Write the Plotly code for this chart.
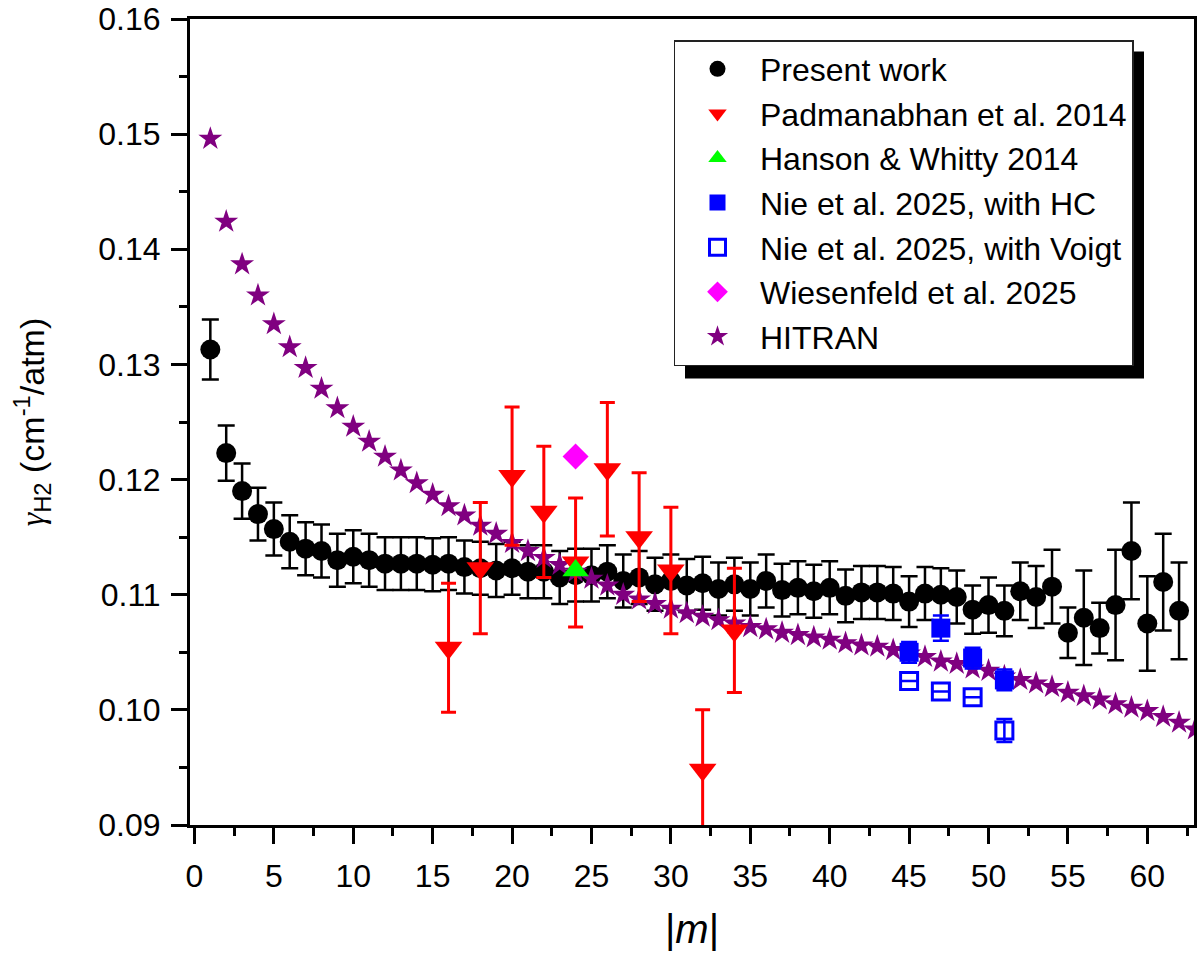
import plotly.graph_objects as go

# ---------------- data ----------------
m_present = list(range(1, 63))
g_present = [0.1313, 0.1223, 0.1190, 0.1170, 0.1157, 0.1146, 0.1140, 0.1138, 0.1130, 0.1133,
             0.1130, 0.1127, 0.1127, 0.1127, 0.1126, 0.1127, 0.1124, 0.1123, 0.1121, 0.1123,
             0.1120, 0.1120, 0.1115, 0.1117, 0.1117, 0.1120, 0.1112, 0.1115, 0.1109, 0.1112,
             0.1108, 0.1110, 0.1105, 0.1109, 0.1105, 0.1112, 0.1104, 0.1106, 0.1103, 0.1106,
             0.1099, 0.1102, 0.1102, 0.1101, 0.1094, 0.1101, 0.1100, 0.1098, 0.1087, 0.1091,
             0.1086, 0.1103, 0.1098, 0.1107, 0.1067, 0.1080, 0.1071, 0.1091, 0.1138, 0.1075,
             0.1111, 0.1086]
e_present = [0.0026, 0.0024, 0.0024, 0.0023, 0.0023, 0.0023, 0.0023, 0.0023, 0.0023, 0.0023,
             0.0023, 0.0023, 0.0023, 0.0023, 0.0023, 0.0023, 0.0023, 0.0023, 0.0023, 0.0023,
             0.0023, 0.0023, 0.0023, 0.0023, 0.0023, 0.0023, 0.0023, 0.0023, 0.0023, 0.0023,
             0.0023, 0.0023, 0.0023, 0.0023, 0.0023, 0.0023, 0.0023, 0.0023, 0.0023, 0.0023,
             0.0023, 0.0023, 0.0023, 0.0023, 0.0022, 0.0023, 0.0023, 0.0023, 0.0021, 0.0024,
             0.0022, 0.0025, 0.0027, 0.0032, 0.0022, 0.0041, 0.0022, 0.0048, 0.0042, 0.0041,
             0.0042, 0.0042]

m_pad = [16, 18, 20, 22, 24, 26, 28, 30, 32, 34]
g_pad = [0.1054, 0.1123, 0.1203, 0.1172, 0.1128, 0.1209, 0.1150, 0.1121, 0.0948, 0.1069]
e_pad = [0.0056, 0.0057, 0.0060, 0.0057, 0.0056, 0.0058, 0.0056, 0.0055, 0.0052, 0.0054]

m_hw = [24]
g_hw = [0.1121]

m_nie = [45, 47, 49, 51]
g_nie_hc = [0.1050, 0.1071, 0.1045, 0.1026]
e_nie_hc = [0.0009, 0.0011, 0.0009, 0.0009]
g_nie_v = [0.1025, 0.1016, 0.1011, 0.0982]
e_nie_v = [0.0, 0.0, 0.0, 0.0010]

m_wie = [24]
g_wie = [0.1220]

m_hitran = list(range(1, 64))
g_hitran = [0.1496, 0.1424, 0.1387, 0.1360, 0.1335, 0.1315, 0.1297, 0.1279, 0.1262, 0.1246,
            0.1233, 0.1220, 0.1208, 0.1197, 0.1187, 0.1177, 0.1169, 0.1160, 0.1153, 0.1145,
            0.1138, 0.1132, 0.1126, 0.1120, 0.1114, 0.1108, 0.1100, 0.1096, 0.1092, 0.1088,
            0.1084, 0.1081, 0.1078, 0.1075, 0.1072, 0.1070, 0.1067, 0.1065, 0.1063, 0.1061,
            0.1058, 0.1056, 0.1055, 0.1052, 0.1049, 0.1046, 0.1042, 0.1040, 0.1036, 0.1034,
            0.1029, 0.1026, 0.1023, 0.1020, 0.1015, 0.1012, 0.1009, 0.1005, 0.1002, 0.0999,
            0.0994, 0.0989, 0.0983]

x_ticks = list(range(0, 61, 5))
y_ticks = [0.09, 0.10, 0.11, 0.12, 0.13, 0.14, 0.15, 0.16]

# ---------------- figure ----------------
FONT = "Liberation Sans, Arial, sans-serif"
fig = go.Figure()

fig.add_trace(go.Scatter(
    x=m_present, y=g_present, mode="markers", name="Present work", legendrank=1,
    marker=dict(symbol="circle", size=20, color="black"),
    error_y=dict(type="data", array=e_present, color="black", thickness=2.5, width=8.5)))

fig.add_trace(go.Scatter(
    x=m_hitran, y=g_hitran, mode="markers", name="HITRAN", legendrank=7,
    marker=dict(symbol="star", size=18, color="#800080", line=dict(width=0))))

fig.add_trace(go.Scatter(
    x=m_pad, y=g_pad, mode="markers", name="Padmanabhan et al. 2014", legendrank=2,
    marker=dict(symbol="triangle-down", size=24, color="#ff0000"),
    error_y=dict(type="data", array=e_pad, color="#ff0000", thickness=3, width=7.5)))

fig.add_trace(go.Scatter(
    x=m_hw, y=g_hw, mode="markers", name="Hanson &amp; Whitty 2014", legendrank=3,
    marker=dict(symbol="triangle-up", size=23, color="#00ff00")))

fig.add_trace(go.Scatter(
    x=m_nie, y=g_nie_hc, mode="markers", name="Nie et al. 2025, with HC", legendrank=4,
    marker=dict(symbol="square", size=19, color="#0000ff"),
    error_y=dict(type="data", array=e_nie_hc, color="#0000ff", thickness=2.5, width=8)))

fig.add_trace(go.Scatter(
    x=m_nie, y=g_nie_v, mode="markers", name="Nie et al. 2025, with Voigt", legendrank=5,
    marker=dict(symbol="square-open", size=17, color="#0000ff", line=dict(width=3, color="#0000ff")),
    error_y=dict(type="data", array=e_nie_v, color="#0000ff", thickness=2.5, width=8)))

fig.add_trace(go.Scatter(
    x=m_wie, y=g_wie, mode="markers", name="Wiesenfeld et al. 2025", legendrank=6,
    marker=dict(symbol="diamond", size=20, color="#ff00ff")))

# plot area in pixels: x 190..1194, y 19..825
L, R, T, B = 190, 6, 19, 132
W, H = 1200, 957
pw, ph = W - L - R, H - T - B

def px2paper_x(px):
    return (px - L) / pw

def px2paper_y(py):
    return (H - B - py) / ph

LEG_LEFT, LEG_TOP = 673.5, 40
SH = 11.5
# legend shadow
fig.add_shape(type="rect", xref="paper", yref="paper",
              x0=px2paper_x(LEG_LEFT + SH), x1=px2paper_x(1132.5 + SH),
              y0=px2paper_y(LEG_TOP + 327 + SH), y1=px2paper_y(LEG_TOP + SH),
              fillcolor="black", line=dict(width=0), layer="above")

axis_common = dict(
    showline=True, linecolor="black", linewidth=3, mirror=True,
    ticks="outside", ticklen=16, tickwidth=2.5, tickcolor="black",
    showgrid=False, zeroline=False, ticklabeloverflow="allow",
    tickfont=dict(size=32, color="black", family=FONT),
)

fig.update_xaxes(
    range=[-0.28, 62.94], tickvals=x_ticks, ticktext=[str(v) for v in x_ticks],
    ticklabelstandoff=5,
    minor=dict(dtick=2.5, tick0=0, ticks="outside", ticklen=8, tickwidth=2.5, tickcolor="black"),
    title=dict(text="|<i>m</i>|", font=dict(size=40, color="black", family=FONT), standoff=22),
    **axis_common)

fig.update_yaxes(
    range=[0.09, 0.16000001], tickvals=y_ticks, ticktext=["%.2f" % v for v in y_ticks],
    ticklabelstandoff=4,
    minor=dict(dtick=0.005, tick0=0.09, ticks="outside", ticklen=8, tickwidth=2.5, tickcolor="black"),
    title=dict(text='<span style="font-family:Liberation Serif"><i>γ</i></span><sub>H2</sub> (cm<sup>-1</sup>/atm)',
               font=dict(size=34, color="black", family=FONT), standoff=44),
    **axis_common)

fig.update_layout(
    width=W, height=H,
    margin=dict(l=L, r=R, t=T, b=B, autoexpand=False),
    paper_bgcolor="white", plot_bgcolor="white",
    font=dict(family=FONT, color="black"),
    legend=dict(x=px2paper_x(LEG_LEFT), y=px2paper_y(LEG_TOP), xanchor="left", yanchor="top",
                bgcolor="white", bordercolor="#222222", borderwidth=1.5,
                font=dict(size=32, color="black", family=FONT),
                itemwidth=75, tracegroupgap=0),
    showlegend=True,
)

fig.write_html("out.html")
